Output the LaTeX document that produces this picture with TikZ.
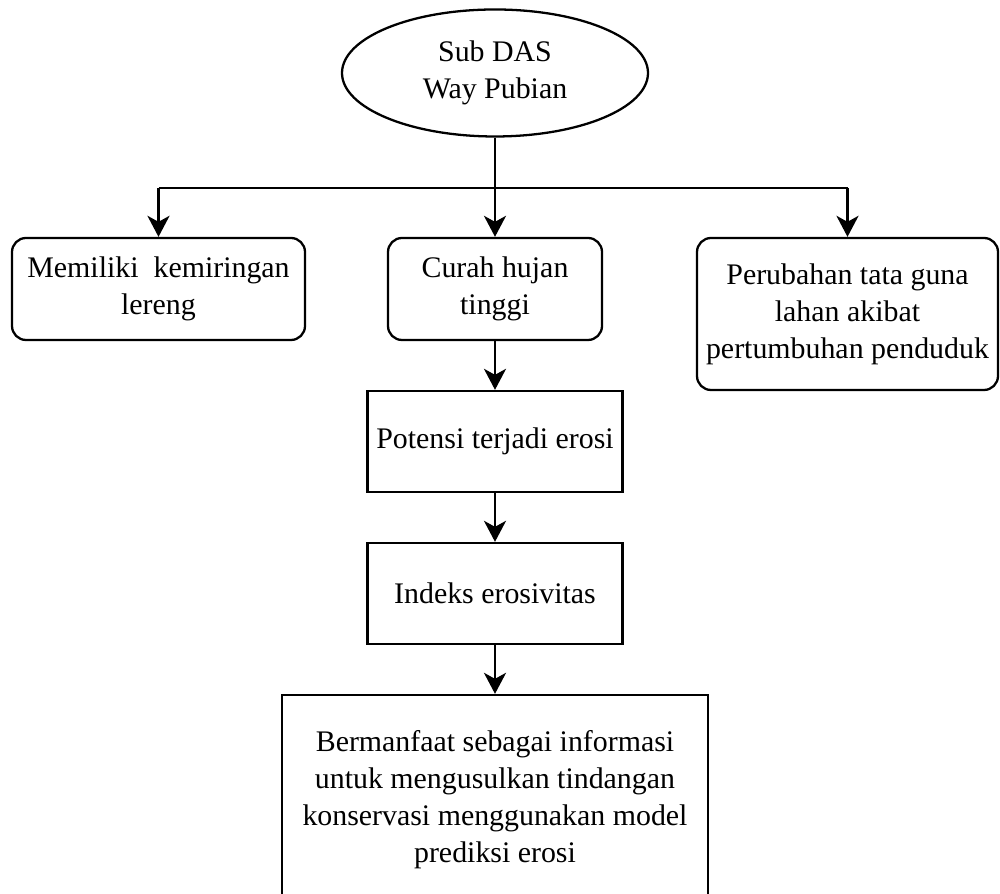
\documentclass[tikz,border=0pt]{standalone}
\usepackage{fontspec}
\setmainfont{Liberation Serif}
\usetikzlibrary{arrows.meta,shapes.geometric}
\begin{document}
\begin{tikzpicture}[line width=1.3pt,
  kotak/.style={draw, rectangle, align=center, font=\fontsize{17}{21}\selectfont, inner sep=0pt},
  bulat/.style={kotak, rounded corners=0.28cm},
  panah/.style={-{Stealth[length=0.42cm, width=0.44cm, inset=0.12cm]}, line width=1.6pt}]
  \clip (0,0) rectangle (20,17.88);
  % bagian atas
  \node[draw, ellipse, align=center, font=\fontsize{17}{21}\selectfont, minimum width=6.12cm, minimum height=2.54cm, inner sep=0pt] (das) at (9.9,16.42) {Sub DAS\\Way Pubian};
  \coordinate (cabang) at (9.9,14.12);
  % tiga penyebab
  \node[bulat, minimum width=5.86cm, minimum height=2.04cm] (lereng) at (3.17,12.1) {Memiliki\ \ kemiringan\\lereng};
  \node[bulat, minimum width=4.28cm, minimum height=2.04cm] (hujan) at (9.9,12.1) {Curah hujan\\tinggi};
  \node[bulat, minimum width=6.02cm, minimum height=3.04cm] (lahan) at (16.95,11.6) {Perubahan tata guna\\lahan akibat\\pertumbuhan penduduk};
  % alur tengah
  \node[kotak, minimum width=5.1cm, minimum height=2.02cm] (potensi) at (9.9,9.05) {Potensi terjadi erosi};
  \node[kotak, minimum width=5.1cm, minimum height=2.02cm] (indeks) at (9.9,6.01) {Indeks erosivitas};
  \node[kotak, minimum width=8.52cm, minimum height=4.2cm] (manfaat) at (9.9,1.88) {Bermanfaat sebagai informasi\\untuk mengusulkan tindangan\\konservasi menggunakan model\\prediksi erosi};
  % panah
  \draw[line width=1.6pt] (lereng.north |- cabang) -- (lahan.north |- cabang);
  \draw[panah] (das.south) -- (hujan.north);
  \draw[panah] (lereng.north |- cabang) -- (lereng.north);
  \draw[panah] (lahan.north |- cabang) -- (lahan.north);
  \draw[panah] (hujan.south) -- (potensi.north);
  \draw[panah] (potensi.south) -- (indeks.north);
  \draw[panah] (indeks.south) -- (manfaat.north);
\end{tikzpicture}
\end{document}
